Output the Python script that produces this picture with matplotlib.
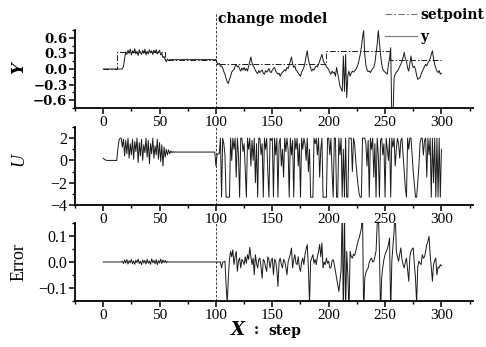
import numpy as np
import matplotlib
matplotlib.use("Agg")
import matplotlib.pyplot as plt
from matplotlib.lines import Line2D
from matplotlib.ticker import MultipleLocator, FuncFormatter

# ---------------- data ----------------
# Output y, one value per step 0..300
y_vals = ([0.0] * 18 +
          [0.05, 0.2, 0.33, 0.28, 0.36, 0.30, 0.38, 0.27, 0.35, 0.31,   # 18-27
           0.39, 0.29, 0.34, 0.26, 0.37, 0.32, 0.28, 0.36, 0.30, 0.38,  # 28-37
           0.27, 0.34, 0.29, 0.37, 0.31, 0.35, 0.28, 0.36, 0.32, 0.37,  # 38-47
           0.29, 0.33, 0.36, 0.27, 0.30, 0.22, 0.24, 0.18, 0.14, 0.19,  # 48-57
           0.16, 0.18] +                                                # 58-59
          [0.18] * 41 +                                                 # 60-100
          [0.12, 0.09, 0.11, 0.05, 0.06, 0.02, -0.05, -0.10, -0.18, -0.25,   # 101-110
           -0.28, -0.20, -0.14, -0.06, -0.03, -0.01, 0.05, 0.09, 0.04, 0.06,  # 111-120
           0.0, -0.04, 0.02, -0.02, 0.03, -0.03, 0.01, -0.04, 0.05, 0.14,     # 121-130
           0.23, 0.12, 0.06, 0.03, -0.03, -0.06, -0.09, -0.03, -0.07, -0.04,  # 131-140
           -0.02, -0.08, -0.10, -0.03, -0.06, -0.04, 0.01, -0.05, -0.07, -0.02,  # 141-150
           0.01, 0.03, -0.04, -0.07, -0.10, -0.08, -0.14, -0.09, -0.06, -0.04,   # 151-160
           -0.01, -0.04, 0.03, 0.01, 0.08, 0.15, 0.23, 0.10, 0.03, 0.06,         # 161-170
           -0.02, -0.04, -0.08, -0.11, -0.14, -0.06, -0.02, 0.03, 0.12, 0.25,    # 171-180
           0.35, 0.18, 0.09, 0.02, -0.04, 0.0, -0.02, 0.03, 0.06, 0.04,          # 181-190
           0.09, 0.15, 0.22, 0.28, 0.18, 0.12, 0.09, 0.04, 0.02, -0.01,          # 191-200
           -0.07, -0.10, -0.04, -0.08, -0.06, -0.14, 0.03, -0.08, -0.20, -0.33,  # 201-210
           -0.38, -0.43, 0.25, -0.43, 0.28, -0.55, -0.12, -0.04, -0.14, -0.08,   # 211-220
           -0.04, -0.06, -0.04, -0.01, 0.03, 0.08, 0.18, 0.28, 0.42, 0.60,       # 221-230
           0.74, 0.28, 0.08, -0.01, -0.05, -0.04, -0.07, -0.03, 0.01, 0.03,      # 231-240
           0.12, 0.30, 0.48, 0.74, 0.50, 0.28, 0.10, 0.0, -0.04, -0.06,          # 241-250
           -0.08, -0.10, 0.09, 0.20, 0.41, -0.95, -0.95, -0.17, -0.10, -0.06,    # 251-260
           -0.04, 0.0, 0.05, 0.09, 0.15, 0.22, 0.32, 0.20, 0.15, 0.02,           # 261-270
           -0.04, 0.10, 0.25, 0.10, 0.03, 0.05, -0.01, -0.12, -0.20, -0.18,      # 271-280
           -0.17, -0.10, -0.04, 0.0, 0.05, 0.09, 0.06, 0.12, 0.15, 0.20,         # 281-290
           0.28, 0.35, 0.20, 0.09, 0.02, -0.04, -0.07, -0.03, -0.10, -0.08])     # 291-300

# Setpoint: level changes (step where it starts, level)
sp_steps = [0, 12, 55, 100, 198, 254, 300]
sp_levels = [0.0, 0.33, 0.18, 0.09, 0.35, 0.17, 0.17]

# Control input U, one value per step 0..300
u_vals = ([0.2, 0.1, 0.05] + [0.0] * 10 + [1.0, 1.8] +                 # 0-14
          [2.0, 2.0, 1.2, 1.9, 0.4, 1.8, 0.6, 2.0, 0.2, 1.5,           # 15-24
           0.5, 1.9, 0.1, 1.7, 0.8, 2.0, -0.2, 1.6, 0.4, 1.9,          # 25-34
           0.0, 1.4, 0.7, 2.0, 0.3, 1.8, -0.3, 1.5, 0.6, 2.0,          # 35-44
           0.2, 1.3, 0.5, 1.9, 0.1, 1.6, -0.1, 1.4, -0.5, 1.2,         # 45-54
           0.3, 1.0, 0.5, 0.95, 0.6, 0.85, 0.7, 0.8, 0.72, 0.77] +     # 55-64
          [0.75] * 35 +                                                # 65-99
          [-0.5, 0.5, 0.6, 0.6, 2.0, -3.3, 2.0, 1.5, 0.5, -3.3,        # 100-109
           -3.3, -3.3, -3.3, 2.0, 0.0, 2.0, 1.0, 2.0, -1.5, 2.0,       # 110-119
           0.5, -3.3, 2.0, 2.0, 0.8, 1.5, -1.0, -3.3, 2.0, 1.0,        # 120-129
           2.0, -0.5, 1.8, 0.0, 2.0, -2.0, 1.5, -3.3, 2.0, 2.0,        # 130-139
           0.5, 1.5, -3.3, 2.0, 1.0, 2.0, -1.0, -3.3, 2.0, 1.8,        # 140-149
           2.0, -3.3, 2.0, 0.5, 2.0, -3.3, 1.5, 2.0, -0.5, 1.0,        # 150-159
           -1.5, 2.0, 0.8, 2.0, 1.0, -3.3, 2.0, 0.5, 1.8, -3.3,        # 160-169
           2.0, 1.0, 2.0, -0.5, 1.5, -3.3, 2.0, 1.0, 2.0, 1.5,         # 170-179
           0.0, 2.0, -1.0, 1.0, -3.3, -3.3, -3.3, 2.0, 1.5, 2.0,       # 180-189
           0.5, 2.0, -1.5, 1.0, 2.0, -3.3, -3.3, -3.3, -3.3, 2.0,      # 190-199
           2.0, 0.5, 2.0, -1.0, -3.3, 2.0, 2.0, -3.3, -3.3, 2.0,       # 200-209
           0.5, 2.0, -3.3, 1.0, -3.3, 2.0, -3.3, -3.3, 2.0, 2.0,       # 210-219
           2.0, -1.0, 2.0, 1.5, 0.0, -1.2, -2.2, -3.0, -3.3, -3.3,     # 220-229
           2.0, 2.0, 2.0, 1.5, -0.5, 1.8, -3.3, 2.0, 1.0, 2.0,         # 230-239
           -1.5, 1.5, -3.3, 2.0, 0.5, -3.3, 1.8, 2.0, 0.5, 1.5,        # 240-249
           -3.3, 2.0, 1.0, 0.0, 2.0, -3.3, 2.0, 1.2, 2.0, -0.5,        # 250-259
           1.0, 2.0, 1.5, 0.2, 1.8, 2.0, 0.5, -1.0, -2.5, -3.3,        # 260-269
           2.0, 1.0, 2.0, 2.0, 0.5, -1.0, -2.2, -3.3, -3.3, -2.0,      # 270-279
           -0.5, 1.5, 2.0, 2.0, 0.5, 1.8, 2.0, -1.5, 2.0, 0.5,         # 280-289
           2.0, -3.3, 2.0, -2.0, 2.0, -3.3, 2.0, -3.3, 2.0, -3.3, 1.0])  # 290-300

# Tracking error, one value per step 0..300
err_vals = ([0.0] * 17 +
            [0.003, -0.006, 0.008, -0.004, 0.009, -0.008, 0.005, -0.003, 0.010, -0.007,  # 17-26
             0.004, -0.009, 0.007, -0.002, 0.011, -0.006, 0.003, -0.010, 0.008, -0.004,  # 27-36
             0.006, -0.008, 0.010, -0.005, 0.004, -0.009, 0.012, -0.003, 0.006, -0.007,  # 37-46
             0.009, -0.010, 0.005, -0.004, 0.011, -0.006, 0.008, -0.002, 0.006, -0.003,  # 47-56
             0.002, 0.0] +                                                               # 57-58
            [0.0] * 46 +                                                                 # 59-104
            [-0.023, 0.0, 0.0, 0.003, -0.087, -0.16, -0.06, 0.01, 0.041, 0.02,      # 105-114
             0.047, -0.01, 0.02, 0.041, -0.036, 0.005, 0.015, -0.023, 0.01, 0.003,   # 115-124
             -0.01, 0.02, -0.005, 0.028, 0.01, 0.056, 0.02, -0.01, 0.015, -0.049,    # 125-134
             0.028, -0.005, -0.023, 0.01, 0.015, -0.02, -0.062, 0.01, 0.003, -0.02,  # 135-144
             -0.036, 0.02, 0.009, -0.023, 0.005, 0.015, -0.049, 0.01, 0.003, -0.03,  # 145-154
             -0.094, 0.0, 0.015, -0.01, -0.023, 0.01, 0.003, -0.02, -0.049, 0.0,     # 155-164
             0.015, 0.03, 0.054, -0.023, 0.01, 0.028, -0.005, -0.01, 0.02, -0.02,    # 165-174
             -0.036, 0.0, 0.015, -0.01, 0.03, 0.05, 0.067, -0.023, -0.16, 0.003,     # 175-184
             0.015, 0.028, -0.005, 0.01, -0.01, 0.02, 0.04, 0.067, 0.02, 0.073,      # 185-194
             -0.023, 0.0, -0.01, 0.015, -0.005, 0.003, -0.023, -0.023, 0.005, 0.009, # 195-204
             -0.01, -0.036, -0.06, -0.087, -0.113, -0.074, -0.03, 0.2, -0.2, 0.2,    # 205-214
             -0.2, 0.041, -0.05, -0.2, 0.041, 0.02, 0.015, 0.03, 0.025, 0.041,       # 215-224
             0.06, 0.08, 0.092, 0.11, 0.13, 0.2, -0.2, -0.062, -0.04, -0.03,         # 225-234
             -0.023, 0.0, 0.01, 0.015, 0.0, 0.003, 0.02, 0.041, 0.144, 0.2,          # 235-244
             0.05, -0.2, -0.062, -0.02, 0.01, 0.028, 0.04, 0.05, 0.067, 0.092,       # 245-254
             -0.2, 0.003, 0.06, 0.12, 0.2, 0.041, 0.02, 0.003, 0.03, 0.054,          # 255-264
             0.01, -0.01, -0.023, 0.0, 0.015, -0.03, -0.074, 0.02, 0.041, 0.05,      # 265-274
             0.054, -0.01, -0.062, -0.16, -0.02, 0.003, -0.005, -0.01, 0.028, 0.015, # 275-284
             0.02, 0.041, 0.067, 0.08, 0.099, 0.028, -0.02, -0.074, -0.01, 0.005,    # 285-294
             0.015, -0.049, -0.02, -0.023, -0.01, -0.015])                           # 295-300

x_ticks = [0, 50, 100, 150, 200, 250, 300]
change_step = 100

# ---------------- drawing ----------------
W, H = 486, 347
fig = plt.figure(figsize=(W / 100, H / 100), dpi=100)

SERIF = ["Liberation Serif", "DejaVu Serif"]
BOLDSERIF = ["DejaVu Serif"]
LC = "#1a1a1a"

def rect(top, bottom, left=75, right=473):
    return [left / W, 1 - bottom / H, (right - left) / W, (bottom - top) / H]

ax1 = fig.add_axes(rect(30, 108))
ax2 = fig.add_axes(rect(127, 205))
ax3 = fig.add_axes(rect(223, 301))

def minus(fmt):
    return FuncFormatter(lambda v, p: (fmt % v).replace("-", "\u2212") if abs(v) > 1e-9 else (fmt % 0.0))

for ax in (ax1, ax2, ax3):
    ax.spines["top"].set_visible(False)
    ax.spines["right"].set_visible(False)
    ax.spines["left"].set_linewidth(1.3)
    ax.spines["bottom"].set_linewidth(1.3)
    ax.set_xlim(-25, 328)
    ax.set_xticks(x_ticks)
    ax.xaxis.set_minor_locator(MultipleLocator(25))
    ax.tick_params(which="major", direction="out", length=4, width=1.1, pad=1.5)
    ax.tick_params(which="minor", direction="out", length=2.5, width=1.0)
    for lab in ax.get_xticklabels():
        lab.set_fontfamily(SERIF)
        lab.set_fontsize(11)
    ax.set_facecolor("none")

steps_y = np.arange(len(y_vals))
steps_u = np.arange(len(u_vals))
steps_e = np.arange(len(err_vals))

# Panel 1: Y
ax1.plot(steps_y, y_vals, color=LC, lw=0.7)
ax1.step(sp_steps, sp_levels, where="post", color=LC, lw=0.7,
         linestyle=(0, (6, 2, 1.5, 2)))
ax1.set_ylim(-0.75, 0.75)
ax1.set_yticks([-0.6, -0.3, 0.0, 0.3, 0.6])
ax1.yaxis.set_minor_locator(MultipleLocator(0.15))
ax1.yaxis.set_major_formatter(minus("%.1f"))
for lab in ax1.get_yticklabels():
    lab.set_fontfamily(BOLDSERIF)
    lab.set_fontweight("bold")
    lab.set_fontsize(9.5)
ax1.axvline(change_step, ymin=0, ymax=(108 - 13) / 78, color=LC, lw=0.6,
            linestyle=(0, (3, 2)), clip_on=False)

# Panel 2: U
ax2.plot(steps_u, u_vals, color=LC, lw=0.7)
ax2.set_ylim(-4, 3)
ax2.set_yticks([-4, -2, 0, 2])
ax2.yaxis.set_minor_locator(MultipleLocator(1))
ax2.yaxis.set_major_formatter(minus("%d"))
for lab in ax2.get_yticklabels():
    lab.set_fontfamily(SERIF)
    lab.set_fontsize(11.5)
ax2.axvline(change_step, color=LC, lw=0.6, linestyle=(0, (3, 2)))

# Panel 3: Error
ax3.plot(steps_e, err_vals, color=LC, lw=0.7)
ax3.set_ylim(-0.15, 0.15)
ax3.set_yticks([-0.1, 0.0, 0.1])
ax3.yaxis.set_minor_locator(MultipleLocator(0.05))
ax3.yaxis.set_major_formatter(minus("%.1f"))
for lab in ax3.get_yticklabels():
    lab.set_fontfamily(SERIF)
    lab.set_fontsize(11.5)
ax3.axvline(change_step, color=LC, lw=0.6, linestyle=(0, (3, 2)))

# Axis labels
fig.text(19 / W, 1 - 68 / H, "Y", rotation=90, ha="center", va="center",
         fontfamily=BOLDSERIF, fontweight="bold", fontstyle="italic", fontsize=12)
fig.text(19 / W, 1 - 160 / H, "U", rotation=90, ha="center", va="center",
         fontfamily=SERIF, fontstyle="italic", fontsize=13)
fig.text(19 / W, 1 - 262 / H, "Error", rotation=90, ha="center", va="center",
         fontfamily=SERIF, fontsize=13)
fig.text(238 / W, 1 - 330 / H, "X", ha="center", va="center",
         fontfamily=BOLDSERIF, fontweight="bold", fontstyle="italic", fontsize=13)
fig.text(256 / W, 1 - 330 / H, ":", ha="center", va="center",
         fontfamily=BOLDSERIF, fontweight="bold", fontsize=10)
fig.text(268 / W, 1 - 331 / H, "step", ha="left", va="center",
         fontfamily=BOLDSERIF, fontweight="bold", fontsize=10)

# Annotation
fig.text(218 / W, 1 - 19 / H, "change model", ha="left", va="center",
         fontfamily=BOLDSERIF, fontweight="bold", fontsize=10)

# Legend
handles = [Line2D([], [], color="#777777", lw=0.8, linestyle=(0, (6, 2, 1.5, 2))),
           Line2D([], [], color="#777777", lw=0.8)]
fig.legend(handles, ["setpoint", "y"], loc="upper left",
           bbox_to_anchor=(385 / W, 1 - 8 / H), frameon=False,
           prop={"family": BOLDSERIF, "weight": "bold", "size": 10},
           handlelength=2.3, handletextpad=0.25, labelspacing=0.55,
           borderpad=0, borderaxespad=0)

fig.savefig("out.png", dpi=100)
